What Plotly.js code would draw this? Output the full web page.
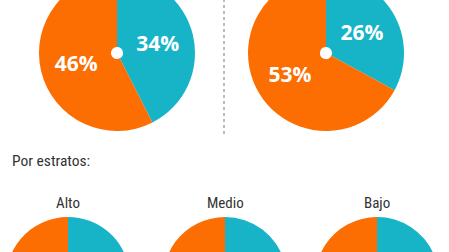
<!DOCTYPE html>
<html>
<head>
<meta charset="utf-8">
<script src="https://cdn.plot.ly/plotly-3.0.1.min.js"></script>
<style>
  html, body { margin: 0; padding: 0; width: 449px; height: 252px; overflow: hidden; background: #fff; }
  #chart { position: absolute; left: 0; top: -30px; width: 449px; height: 380px; }
</style>
</head>
<body>
<div id="chart"></div>
<script>
// ---- data ----
const categories = ["Sí", "No"];
const colors = ["#17b4c7", "#fc6d02"];
const topValues1 = [34, 46];
const topLabels1 = ["34%", "46%"];
const topValues2 = [26, 53];
const topLabels2 = ["26%", "53%"];
const strataNames = ["Alto", "Medio", "Bajo"];
const strataValues = [[36, 44], [33, 47], [30, 52]];
const strataLabels = [["36%", "44%"], ["33%", "47%"], ["30%", "52%"]];
const sectionTitle = "Por estratos:";

// ---- layout helpers (pixel geometry of the drawing area) ----
const W = 449, H = 380;
function dom(cx, cy, r) {
  return { x: [(cx - r) / W, (cx + r) / W], y: [1 - (cy + r) / H, 1 - (cy - r) / H] };
}
const labelFont = { family: "Open Sans, Lato, sans-serif", size: 21, color: "#ffffff", weight: 700 };
const textFont = { family: "Roboto Condensed, Liberation Sans Narrow, Roboto, sans-serif", color: "#333333" };

function pie(values, text, d, hole, showText) {
  return {
    type: "pie", values: values, labels: categories, text: text,
    textinfo: showText ? "text" : "none", textposition: "inside", insidetextorientation: "horizontal",
    insidetextfont: labelFont,
    marker: { colors: colors, line: { width: 0 } },
    sort: false, direction: "clockwise", rotation: 0,
    hole: hole, domain: d, showlegend: false, hoverinfo: "none"
  };
}

const strataCx = [68, 225, 377];
const data = [
  pie(topValues1, topLabels1, dom(117, 83, 78), 0.077, true),
  pie(topValues2, topLabels2, dom(326, 83, 78), 0.077, true)
];
strataValues.forEach((v, i) => data.push(pie(v, strataLabels[i], dom(strataCx[i], 309, 62), 0, false)));

const annotations = [{
  text: sectionTitle, xref: "paper", yref: "paper",
  x: 10 / W, y: 1 - 191 / H, xanchor: "left", yanchor: "middle",
  showarrow: false, font: Object.assign({ size: 15.5 }, textFont)
}];
strataNames.forEach((n, i) => annotations.push({
  text: n, xref: "paper", yref: "paper",
  x: strataCx[i] / W, y: 1 - 233 / H, xanchor: "center", yanchor: "middle",
  showarrow: false, font: Object.assign({ size: 15 }, textFont)
}));

const layout = {
  width: W, height: H,
  margin: { l: 0, r: 0, t: 0, b: 0 },
  paper_bgcolor: "#ffffff",
  shapes: [{
    type: "line", xref: "paper", yref: "paper",
    x0: 224 / W, x1: 224 / W, y0: 1 - 164 / H, y1: 1,
    line: { color: "#777777", width: 1, dash: "dot" }
  }],
  annotations: annotations
};

Plotly.newPlot("chart", data, layout, { staticPlot: true, displayModeBar: false });
</script>
</body>
</html>
